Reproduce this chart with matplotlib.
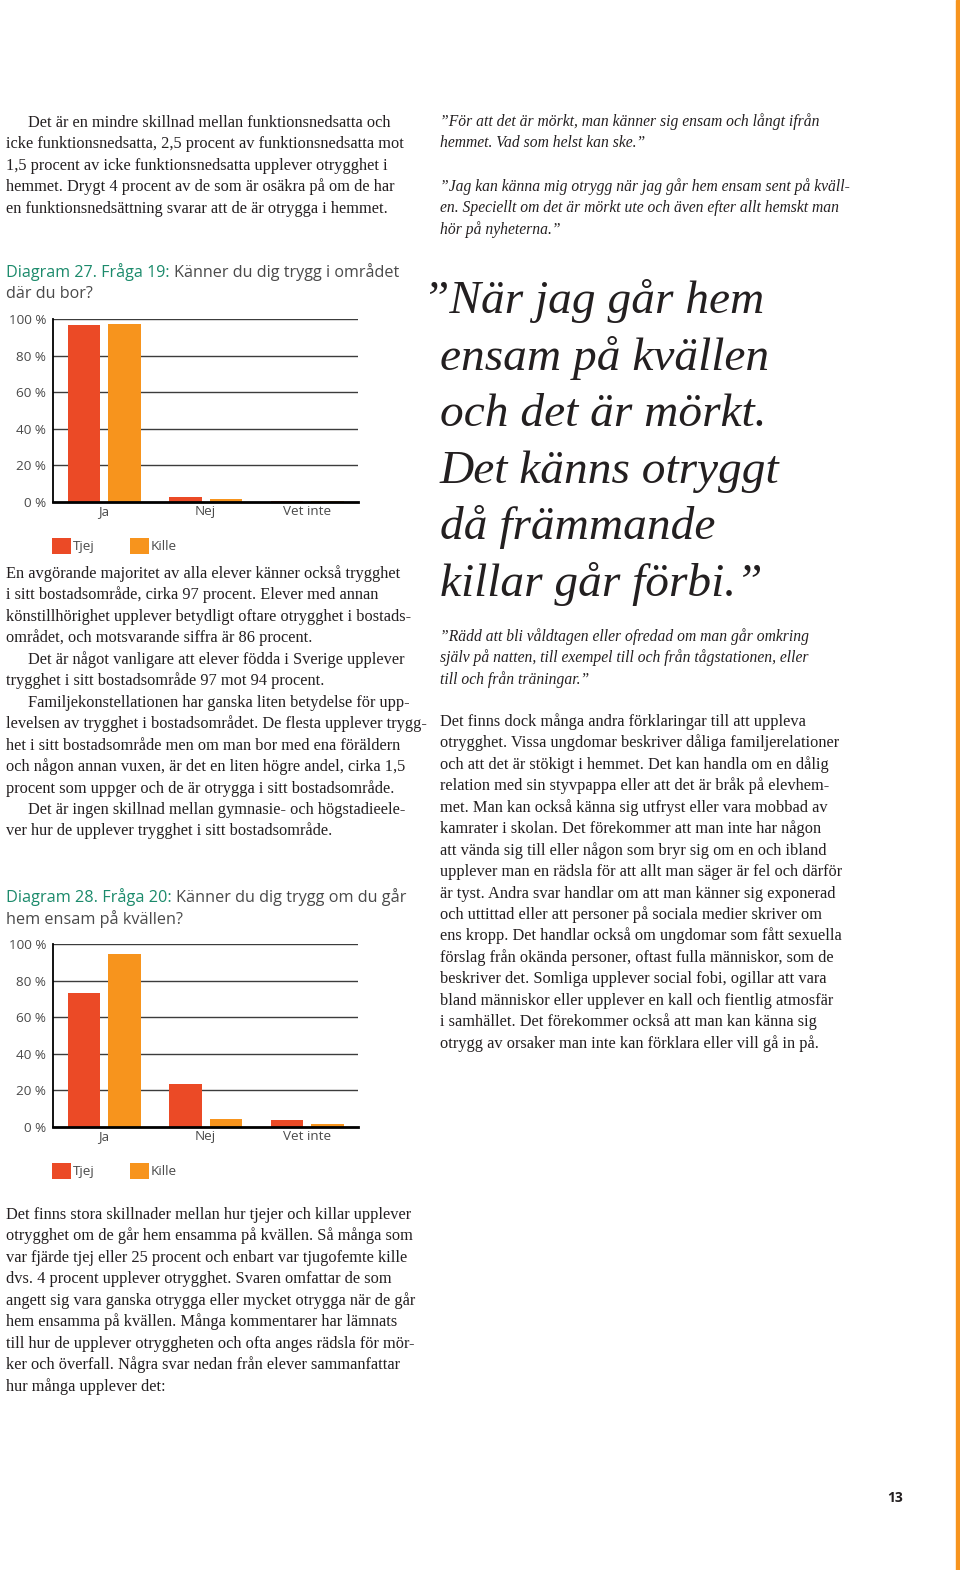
import numpy as np
import matplotlib
matplotlib.use("Agg")
import matplotlib.pyplot as plt
from matplotlib.patches import Rectangle

W, H = 960, 1570

# chart data (percent)
categories = ["Ja", "Nej", "Vet inte"]
series_names = ["Tjej", "Kille"]
q19_tjej = [97.0, 2.4, 0.6]
q19_kille = [97.6, 1.6, 0.5]
q20_tjej = [73.3, 23.6, 3.8]
q20_kille = [94.9, 4.2, 1.6]
y_ticks = [0, 20, 40, 60, 80, 100]

RED = "#EB4A26"
ORANGE = "#F7941D"
GREEN = "#1B8A6B"
GREY = "#4A4A4A"
TEXT = "#231F20"

SERIF = "Liberation Serif"
SANS = "Open Sans"

fig = plt.figure(figsize=(W / 100, H / 100), dpi=100)
renderer = fig.canvas.get_renderer()


def px(x, y):
    return x / W, 1 - y / H


def fit(s, target, **kw):
    # font size that makes s about target pixels wide
    t = fig.text(0, 0, s, fontsize=10, **kw)
    w = t.get_window_extent(renderer).width
    t.remove()
    return 10 * target / w


def lines_at(lines, x, y0, step, size, indent=(), **kw):
    for i, s in enumerate(lines):
        xx = x + (22 if i in indent else 0)
        fig.text(*px(xx, y0 + i * step), s, fontsize=size, va="baseline",
                 color=TEXT, **kw)


# ---- texts ----
block_a = [
    "Det är en mindre skillnad mellan funktionsnedsatta och",
    "icke funktionsnedsatta, 2,5 procent av funktionsnedsatta mot",
    "1,5 procent av icke funktionsnedsatta upplever otrygghet i",
    "hemmet. Drygt 4 procent av de som är osäkra på om de har",
    "en funktionsnedsättning svarar att de är otrygga i hemmet.",
]
block_b = [
    "En avgörande majoritet av alla elever känner också trygghet",
    "i sitt bostadsområde, cirka 97 procent. Elever med annan",
    "könstillhörighet upplever betydligt oftare otrygghet i bostads-",
    "området, och motsvarande siffra är 86 procent.",
    "Det är något vanligare att elever födda i Sverige upplever",
    "trygghet i sitt bostadsområde 97 mot 94 procent.",
    "Familjekonstellationen har ganska liten betydelse för upp-",
    "levelsen av trygghet i bostadsområdet. De flesta upplever trygg-",
    "het i sitt bostadsområde men om man bor med ena föräldern",
    "och någon annan vuxen, är det en liten högre andel, cirka 1,5",
    "procent som uppger och de är otrygga i sitt bostadsområde.",
    "Det är ingen skillnad mellan gymnasie- och högstadieele-",
    "ver hur de upplever trygghet i sitt bostadsområde.",
]
block_c = [
    "Det finns stora skillnader mellan hur tjejer och killar upplever",
    "otrygghet om de går hem ensamma på kvällen. Så många som",
    "var fjärde tjej eller 25 procent och enbart var tjugofemte kille",
    "dvs. 4 procent upplever otrygghet. Svaren omfattar de som",
    "angett sig vara ganska otrygga eller mycket otrygga när de går",
    "hem ensamma på kvällen. Många kommentarer har lämnats",
    "till hur de upplever otryggheten och ofta anges rädsla för mör-",
    "ker och överfall. Några svar nedan från elever sammanfattar",
    "hur många upplever det:",
]
quote_1 = [
    "”För att det är mörkt, man känner sig ensam och långt ifrån",
    "hemmet. Vad som helst kan ske.”",
]
quote_2 = [
    "”Jag kan känna mig otrygg när jag går hem ensam sent på kväll-",
    "en. Speciellt om det är mörkt ute och även efter allt hemskt man",
    "hör på nyheterna.”",
]
quote_3 = [
    "”Rädd att bli våldtagen eller ofredad om man går omkring",
    "själv på natten, till exempel till och från tågstationen, eller",
    "till och från träningar.”",
]
big_quote = [
    "”När jag går hem",
    "ensam på kvällen",
    "och det är mörkt.",
    "Det känns otryggt",
    "då främmande",
    "killar går förbi.”",
]
block_d = [
    "Det finns dock många andra förklaringar till att uppleva",
    "otrygghet. Vissa ungdomar beskriver dåliga familjerelationer",
    "och att det är stökigt i hemmet. Det kan handla om en dålig",
    "relation med sin styvpappa eller att det är bråk på elevhem-",
    "met. Man kan också känna sig utfryst eller vara mobbad av",
    "kamrater i skolan. Det förekommer att man inte har någon",
    "att vända sig till eller någon som bryr sig om en och ibland",
    "upplever man en rädsla för att allt man säger är fel och därför",
    "är tyst. Andra svar handlar om att man känner sig exponerad",
    "och uttittad eller att personer på sociala medier skriver om",
    "ens kropp. Det handlar också om ungdomar som fått sexuella",
    "förslag från okända personer, oftast fulla människor, som de",
    "beskriver det. Somliga upplever social fobi, ogillar att vara",
    "bland människor eller upplever en kall och fientlig atmosfär",
    "i samhället. Det förekommer också att man kan känna sig",
    "otrygg av orsaker man inte kan förklara eller vill gå in på.",
]

body_size = fit(block_c[0], 406, family=SERIF)
ital_size = fit(quote_1[0], 380, family=SERIF, style="italic")
big_size = fit(big_quote[3], 340, family=SERIF, style="italic")
step = 21.45

lines_at(block_a, 6, 127, step, body_size, indent=(0,), family=SERIF)
lines_at(block_b, 6, 578, step, body_size, indent=(4, 6, 11), family=SERIF)
lines_at(block_c, 6, 1219, step, body_size, family=SERIF)
lines_at(block_d, 440, 726, step, body_size, family=SERIF)
lines_at(quote_1, 440, 126, step, ital_size, family=SERIF, style="italic")
lines_at(quote_2, 440, 191, step, ital_size, family=SERIF, style="italic")
lines_at(quote_3, 440, 641, step, ital_size, family=SERIF, style="italic")
lines_at(big_quote[:1], 423, 313, 56.6, big_size, family=SERIF, style="italic")
lines_at(big_quote[1:], 440, 369.6, 56.6, big_size, family=SERIF, style="italic")


def title(label, rest, line2, y, target):
    size = fit(label + " " + rest, target, family=SANS)
    t = fig.text(*px(6, y), label + " ", fontsize=size, color=GREEN,
                 family=SANS, va="baseline")
    x2 = t.get_window_extent(renderer).x1
    fig.text(x2 / W, 1 - y / H, rest, fontsize=size, color=GREY,
             family=SANS, va="baseline")
    fig.text(*px(6, y + 21.5), line2, fontsize=size, color=GREY,
             family=SANS, va="baseline")


title("Diagram 27. Fråga 19:", "Känner du dig trygg i området", "där du bor?",
      277, 393)
title("Diagram 28. Fråga 20:", "Känner du dig trygg om du går",
      "hem ensam på kvällen?", 902, 401)


def chart(y_zero, tjej, kille):
    ax = fig.add_axes([53.3 / W, 1 - y_zero / H, 304.7 / W, 182.4 / H])
    x = np.arange(len(categories))
    bw = 0.32
    ax.bar(x - 0.04 - bw / 2, tjej, bw, color=RED, label=series_names[0], zorder=3)
    ax.bar(x + 0.04 + bw / 2, kille, bw, color=ORANGE, label=series_names[1], zorder=3)
    ax.set_xlim(-0.5, len(categories) - 0.5)
    ax.set_ylim(0, 100)
    ax.set_yticks(y_ticks)
    ax.set_yticklabels([f"{v} %" for v in y_ticks])
    ax.set_xticks(x)
    ax.set_xticklabels(categories)
    for v in y_ticks[1:]:
        ax.axhline(v, color="#3C3C3C", lw=1.0, zorder=1)
    for s in ("top", "right"):
        ax.spines[s].set_visible(False)
    ax.spines["left"].set_linewidth(1.3)
    ax.spines["bottom"].set_linewidth(2.0)
    ax.spines["bottom"].set_zorder(4)
    ax.tick_params(length=0, labelsize=9.7, labelcolor=GREY)
    ax.tick_params(axis="y", pad=5)
    ax.tick_params(axis="x", pad=2.5)
    for lab in ax.get_xticklabels() + ax.get_yticklabels():
        lab.set_family(SANS)
    leg = ax.legend(loc="upper left", bbox_to_anchor=px(52, y_zero + 36),
                    bbox_transform=fig.transFigure, ncol=2, frameon=False,
                    borderpad=0, borderaxespad=0, handlelength=1.4,
                    handleheight=1.5, handletextpad=0.15, columnspacing=2.6,
                    prop={"family": SANS, "size": 9.7})
    for t in leg.get_texts():
        t.set_color(GREY)
    return ax


chart(501.7, q19_tjej, q19_kille)
chart(1126.7, q20_tjej, q20_kille)

fig.text(*px(895, 1502), "13", fontsize=10, fontweight="bold", family=SANS,
         ha="center", va="baseline", color=TEXT)
fig.patches.append(Rectangle((956 / W, 0), 4 / W, 1, color=ORANGE,
                             transform=fig.transFigure, figure=fig))

fig.savefig("out.png", dpi=100, facecolor="white")
